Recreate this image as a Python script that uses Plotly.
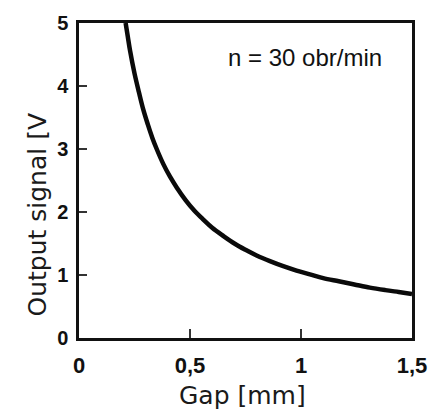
import plotly.graph_objects as go

gap_mm = [0.21, 0.22, 0.23, 0.25, 0.27, 0.29, 0.31, 0.33, 0.35, 0.38, 0.41, 0.44, 0.48,
          0.52, 0.56, 0.60, 0.65, 0.70, 0.75, 0.80, 0.86, 0.92, 0.98, 1.04, 1.10, 1.17,
          1.24, 1.31, 1.38, 1.44, 1.50]
output_v = [5.0, 4.78, 4.56, 4.2, 3.9, 3.62, 3.39, 3.18, 3.0, 2.76, 2.56, 2.39, 2.19,
            2.02, 1.88, 1.75, 1.62, 1.5, 1.40, 1.31, 1.22, 1.14, 1.07, 1.01, 0.95, 0.90,
            0.85, 0.80, 0.76, 0.73, 0.70]

x_ticks = [0, 0.5, 1, 1.5]
x_ticklabels = ["0", "0,5", "1", "1,5"]
y_ticks = [0, 1, 2, 3, 4, 5]
y_ticklabels = ["0", "1", "2", "3", "4", "5"]

fig = go.Figure()
fig.add_trace(go.Scatter(x=gap_mm, y=output_v, mode="lines",
                         line=dict(color="#0a0a0a", width=4.5, shape="spline"),
                         showlegend=False, hoverinfo="skip"))

xtickfont = dict(family="Liberation Sans, Arial, sans-serif", size=22, color="#111", weight="bold")
ytickfont = dict(family="Liberation Sans, Arial, sans-serif", size=20, color="#111", weight="bold")
fig.update_xaxes(range=[0, 1.5], tickvals=x_ticks, ticktext=x_ticklabels,
                 ticks="inside", ticklen=9, tickwidth=1.5, tickcolor="#333",
                 showline=True, linecolor="#111", linewidth=2.5, mirror=True,
                 showgrid=False, zeroline=False, tickfont=xtickfont, ticklabelstandoff=6)
fig.update_yaxes(range=[0, 5], tickvals=y_ticks, ticktext=y_ticklabels,
                 ticks="inside", ticklen=8, tickwidth=1.5, tickcolor="#333",
                 showline=True, linecolor="#111", linewidth=2.5, mirror=True,
                 showgrid=False, zeroline=False, tickfont=ytickfont, ticklabelstandoff=4)

titlefont = dict(family="DejaVu Sans, sans-serif", size=25, color="#1a1a1a")
fig.add_annotation(text="Gap [mm]", xref="paper", yref="paper", x=0.49, y=0,
                   yanchor="middle", yshift=-57, showarrow=False, font=titlefont)
fig.add_annotation(text="Output signal [V", xref="paper", yref="paper", x=0, y=0.392,
                   xanchor="center", yanchor="middle", xshift=-41, textangle=-90,
                   showarrow=False, font=titlefont)
fig.add_annotation(text="n = 30 obr/min", xref="paper", yref="paper", x=0.68, y=0.89,
                   xanchor="center", yanchor="middle", showarrow=False,
                   font=dict(family="Liberation Sans, Arial, sans-serif", size=24, color="#111"))

fig.update_layout(width=439, height=411, margin=dict(l=79, r=19, t=19, b=73),
                  plot_bgcolor="white", paper_bgcolor="white")
fig.write_html("out.html", config={"displayModeBar": False},
               post_script="document.body.style.margin='0';document.body.style.padding='0';document.body.style.overflow='hidden';")
